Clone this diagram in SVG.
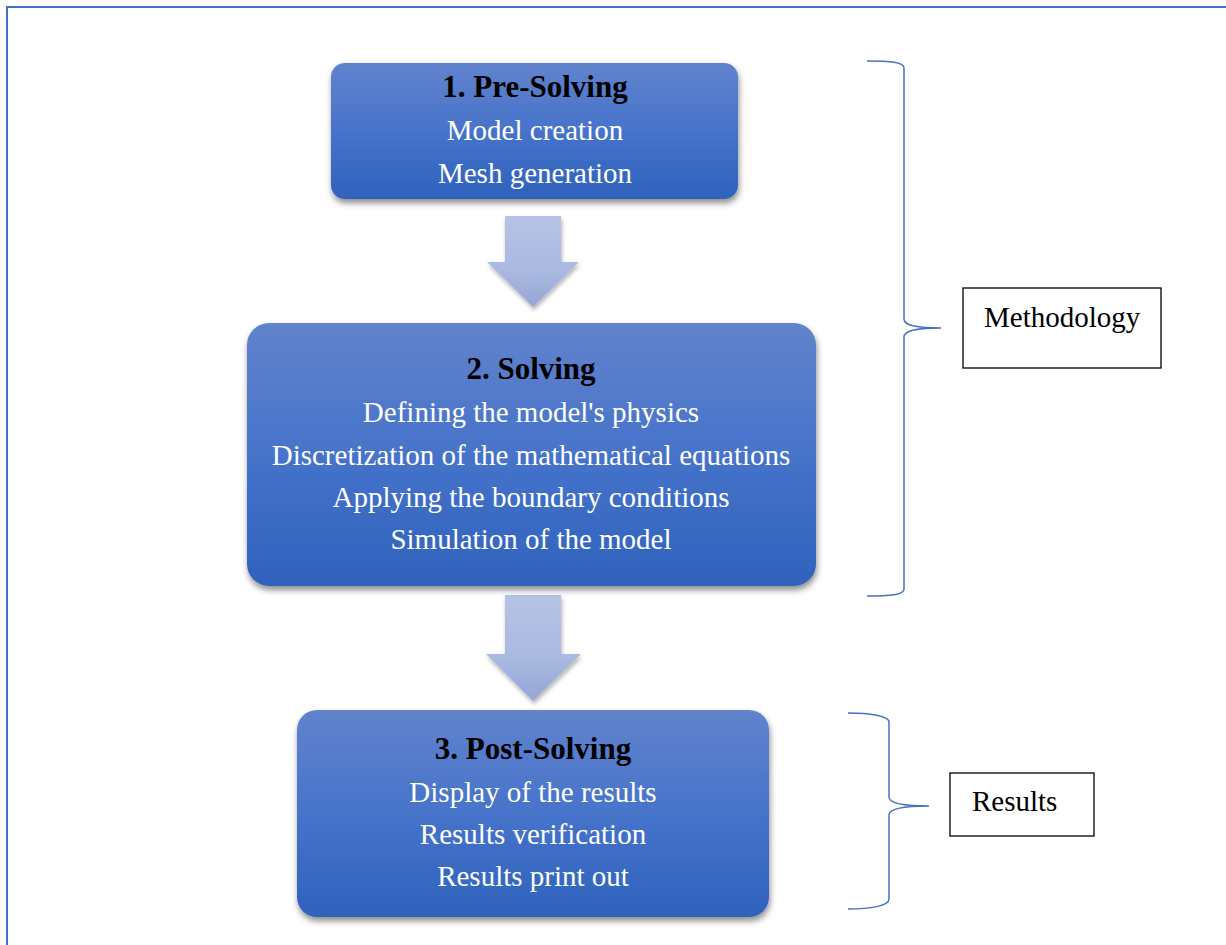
<svg xmlns="http://www.w3.org/2000/svg" width="1226" height="945" viewBox="0 0 1226 945">
<defs>
<linearGradient id="boxGrad" x1="0" y1="0" x2="0" y2="1">
<stop offset="0" stop-color="#6283cd"/>
<stop offset="0.5" stop-color="#4673ca"/>
<stop offset="1" stop-color="#2f62bc"/>
</linearGradient>
<linearGradient id="arrGrad" x1="0" y1="0" x2="0" y2="1">
<stop offset="0" stop-color="#b6c3e6"/>
<stop offset="0.6" stop-color="#aab9e0"/>
<stop offset="1" stop-color="#95a6d4"/>
</linearGradient>
<filter id="shadow" x="-10%" y="-10%" width="120%" height="130%">
<feDropShadow dx="1" dy="4" stdDeviation="3" flood-color="#000" flood-opacity="0.45"/>
</filter>
<filter id="ashadow" x="-20%" y="-20%" width="140%" height="140%">
<feDropShadow dx="1" dy="3" stdDeviation="2" flood-color="#000" flood-opacity="0.3"/>
</filter>
</defs>
<style>
.box{fill:url(#boxGrad);filter:url(#shadow);}
.arrow{fill:url(#arrGrad);filter:url(#ashadow);}
.title{font-family:"Liberation Serif","Times New Roman",serif;font-weight:bold;font-size:31px;fill:#000;text-anchor:middle;}
.body{font-family:"Liberation Serif","Times New Roman",serif;font-size:29px;fill:#fff;text-anchor:middle;}
.label{font-family:"Liberation Serif","Times New Roman",serif;font-size:29px;fill:#000;}
.lbox{fill:#fff;stroke:#000;stroke-width:1.3;}
.brace{fill:none;stroke:#4472c4;stroke-width:1.5;}
.frame{fill:none;stroke:#4472c4;stroke-width:2;}
</style>
<rect x="0" y="0" width="1226" height="945" fill="#fff"/>
<path class="frame" d="M7,945 V7 H1226"/>

<g id="connectors">
<path class="arrow" d="M505,216 H561 V262 H579 L533,307 L487,262 H505 Z"/>
<path class="arrow" d="M505,595 H561 V654 H581 L533,701 L486,654 H505 Z"/>
</g>

<g id="node-pre-solving">
<rect class="box" x="331" y="63" width="407" height="136" rx="14" ry="14"/>
<text class="title" x="535" y="97">1. Pre-Solving</text>
<text class="body" x="535" y="140">Model creation</text>
<text class="body" x="535" y="183">Mesh generation</text>
</g>

<g id="node-solving">
<rect class="box" x="247" y="323" width="569" height="263" rx="22" ry="22"/>
<text class="title" x="531" y="379">2. Solving</text>
<text class="body" x="531" y="422">Defining the model's physics</text>
<text class="body" x="531" y="465">Discretization of the mathematical equations</text>
<text class="body" x="531" y="507">Applying the boundary conditions</text>
<text class="body" x="531" y="549">Simulation of the model</text>
</g>

<g id="node-post-solving">
<rect class="box" x="297" y="710" width="472" height="207" rx="20" ry="20"/>
<text class="title" x="533" y="759">3. Post-Solving</text>
<text class="body" x="533" y="802">Display of the results</text>
<text class="body" x="533" y="844">Results verification</text>
<text class="body" x="533" y="886">Results print out</text>
</g>

<g id="brace-methodology">
<path class="brace" d="M867,61 C890,61 904,62 904,68 V319 C904,326 918,328 941,328 C918,328 904,330 904,337 V589 C904,595 890,596 867,596"/>
</g>
<g id="node-methodology">
<rect class="lbox" x="963" y="288" width="198" height="80"/>
<text class="label" x="984" y="327">Methodology</text>
</g>

<g id="brace-results">
<path class="brace" d="M848,713 C870,713 889,716 889,722 V797 C889,804 905,806 929,806 C905,806 889,808 889,815 V899 C889,906 870,909 848,909"/>
</g>
<g id="node-results">
<rect class="lbox" x="950" y="773" width="144" height="63"/>
<text class="label" x="972" y="811">Results</text>
</g>
</svg>
